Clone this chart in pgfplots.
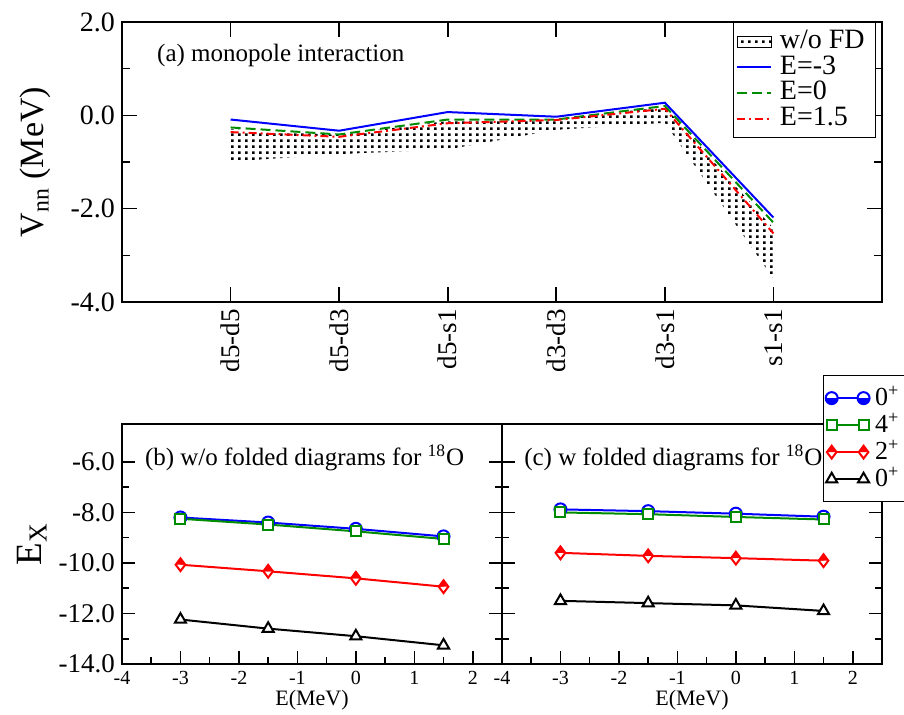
\documentclass[border=0pt]{standalone}
\usepackage{pgfplots}
\pgfplotsset{compat=1.18}
\usetikzlibrary{patterns,plotmarks}
\usepackage{fontspec}
\setmainfont{Liberation Serif}
\definecolor{ggreen}{RGB}{0,140,0}
\newcommand{\fs}[1]{\fontsize{#1}{#1}\selectfont}
\pgfdeclarepatternformonly{bdots}{\pgfqpoint{0pt}{0pt}}{\pgfqpoint{3.4pt}{3.2pt}}{\pgfqpoint{3.4pt}{3.2pt}}{%
  \pgfpathrectangle{\pgfqpoint{0pt}{0pt}}{\pgfqpoint{1.4pt}{1.4pt}}\pgfusepath{fill}}
\begin{document}
\begin{tikzpicture}
\pgfplotsset{
  every axis/.append style={
    scale only axis, tick align=inside, axis line style={line width=0.8pt},
    every tick/.style={black, line width=0.8pt},
    /pgf/number format/assume math mode=true,
  },
}
% ---------- top panel ----------
\begin{axis}[
  at={(61pt,-11pt)}, anchor=north west, width=380pt, height=140pt,
  xmin=-1, xmax=6, ymin=-4, ymax=2,
  xtick={0,1,2,3,4,5},
  xticklabels={d5-d5,d5-d3,d5-s1,d3-d3,d3-s1,s1-s1},
  xticklabel style={rotate=90, anchor=east, font=\fs{13.5}},
  ytick={-4,-2,0,2}, minor ytick={-3,-1,1},
  yticklabel style={/pgf/number format/fixed, /pgf/number format/fixed zerofill, /pgf/number format/precision=1, font=\fs{14}},
  major tick length=7.5pt, minor tick length=4pt,
  ylabel={V\textsubscript{nn} (MeV)},
  ylabel style={at={(axis description cs:-0.114,0.5)}, anchor=center, font=\fs{17}},
  legend style={at={(0.992,1)}, anchor=north east, draw=black, line width=0.6pt, font=\fs{14},
    inner xsep=1.5pt, inner ysep=3.2pt,
    nodes={inner xsep=3.8pt, inner ysep=1pt, text height=8.8pt, text depth=2pt}, row sep=0pt, cells={anchor=west}},
]
\addplot[pattern=bdots, draw=none, area legend] coordinates {(0,-0.30) (1,-0.42) (2,-0.12) (3,-0.08) (4,0.18) (5,-2.42)
  (5,-3.50) (4,-0.16) (3,-0.31) (2,-0.73) (1,-0.83) (0,-0.99)} -- cycle;
\addlegendentry{w/o FD}
\addplot[blue, line width=1pt] coordinates {(0,-0.09) (1,-0.33) (2,0.07) (3,-0.03) (4,0.27) (5,-2.19)};
\addlegendentry{E=-3}
\addplot[ggreen, line width=1pt, dash pattern=on 5pt off 2.5pt] coordinates {(0,-0.26) (1,-0.41) (2,-0.09) (3,-0.09) (4,0.20) (5,-2.30)};
\addlegendentry{E=0}
\addplot[red, line width=1pt, dash pattern=on 4pt off 2pt on 1pt off 2pt] coordinates {(0,-0.36) (1,-0.46) (2,-0.17) (3,-0.10) (4,0.14) (5,-2.53)};
\addlegendentry{E=1.5}
\node[anchor=west, font=\fs{12.5}] at (rel axis cs:0.037,0.882) {(a) monopole interaction};
\end{axis}
% ---------- bottom panels ----------
\pgfplotsset{
  bot/.style={
    width=190pt, height=120pt,
    xmin=-4, xmax=2.5, ymin=-14, ymax=-4.5,
    xtick={-4,-3,-2,-1,0,1,2}, minor x tick num=1,
    ytick={-14,-12,-10,-8,-6}, minor y tick num=1,
    xtick pos=lower,
    major tick length=6.5pt, minor tick length=3.5pt,
    xticklabel style={font=\fs{10}},
    yticklabel style={/pgf/number format/fixed, /pgf/number format/fixed zerofill, /pgf/number format/precision=1, font=\fs{13.5}},
    xlabel={E(MeV)},
    xlabel style={at={(axis description cs:0.5,-0.15)}, anchor=center, font=\fs{11}},
    legend image code/.code={\draw[mark repeat=2,mark phase=1,##1] plot coordinates {(0cm,0cm) (0.28cm,0cm) (0.56cm,0cm)};},
  },
  s0/.style={blue, line width=1pt, mark=halfcircle*, mark size=3pt, mark options={fill=white}, mark color=blue},
  s4/.style={ggreen, line width=1pt, mark=square*, mark size=2.5pt, mark options={fill=white}},
  s2/.style={red, line width=1pt, mark=halfdiamond*, mark size=3.2pt, mark options={fill=white}, mark color=red},
  sg/.style={black, line width=1pt, mark=triangle*, mark size=3.2pt, mark options={fill=white}},
}
\begin{axis}[bot, at={(61pt,-212pt)}, anchor=north west,
  ylabel={E\textsubscript{X}},
  ylabel style={at={(axis description cs:-0.237,0.5)}, anchor=center, font=\fs{18.5}},
]
\addplot[s0] coordinates {(-3,-8.20) (-1.5,-8.40) (0,-8.65) (1.5,-8.95)};
\addplot[s4] coordinates {(-3,-8.25) (-1.5,-8.48) (0,-8.75) (1.5,-9.05)};
\addplot[s2] coordinates {(-3,-10.07) (-1.5,-10.33) (0,-10.61) (1.5,-10.94)};
\addplot[sg] coordinates {(-3,-12.24) (-1.5,-12.60) (0,-12.90) (1.5,-13.26)};
\node[anchor=west, font=\fs{12.5}] at (rel axis cs:0.042,0.858) {(b) w/o folded diagrams for \textsuperscript{18}O};
\end{axis}
\begin{axis}[bot, at={(251pt,-212pt)}, anchor=north west,
  yticklabels={},
  legend style={at={(0.845,1.204)}, anchor=north west, draw=black, line width=0.6pt, font=\fs{13},
    inner xsep=1pt, inner ysep=4.5pt,
    nodes={inner xsep=2.75pt, inner ysep=1pt, text height=9.5pt, text depth=2pt}, row sep=0pt, cells={anchor=west}},
]
\addplot[s0] coordinates {(-3,-7.88) (-1.5,-7.95) (0,-8.05) (1.5,-8.17)};
\addlegendentry{0\textsuperscript{+}}
\addplot[s4] coordinates {(-3,-8.00) (-1.5,-8.07) (0,-8.18) (1.5,-8.28)};
\addlegendentry{4\textsuperscript{+}}
\addplot[s2] coordinates {(-3,-9.60) (-1.5,-9.72) (0,-9.81) (1.5,-9.91)};
\addlegendentry{2\textsuperscript{+}}
\addplot[sg] coordinates {(-3,-11.50) (-1.5,-11.59) (0,-11.68) (1.5,-11.90)};
\addlegendentry{0\textsuperscript{+}}
\node[anchor=west, font=\fs{12.5}] at (rel axis cs:0.04,0.858) {(c) w folded diagrams for \textsuperscript{18}O};
\end{axis}
\pgfresetboundingbox
\path[use as bounding box] (0,0) rectangle (452pt,-357.5pt);
\end{tikzpicture}
\end{document}
